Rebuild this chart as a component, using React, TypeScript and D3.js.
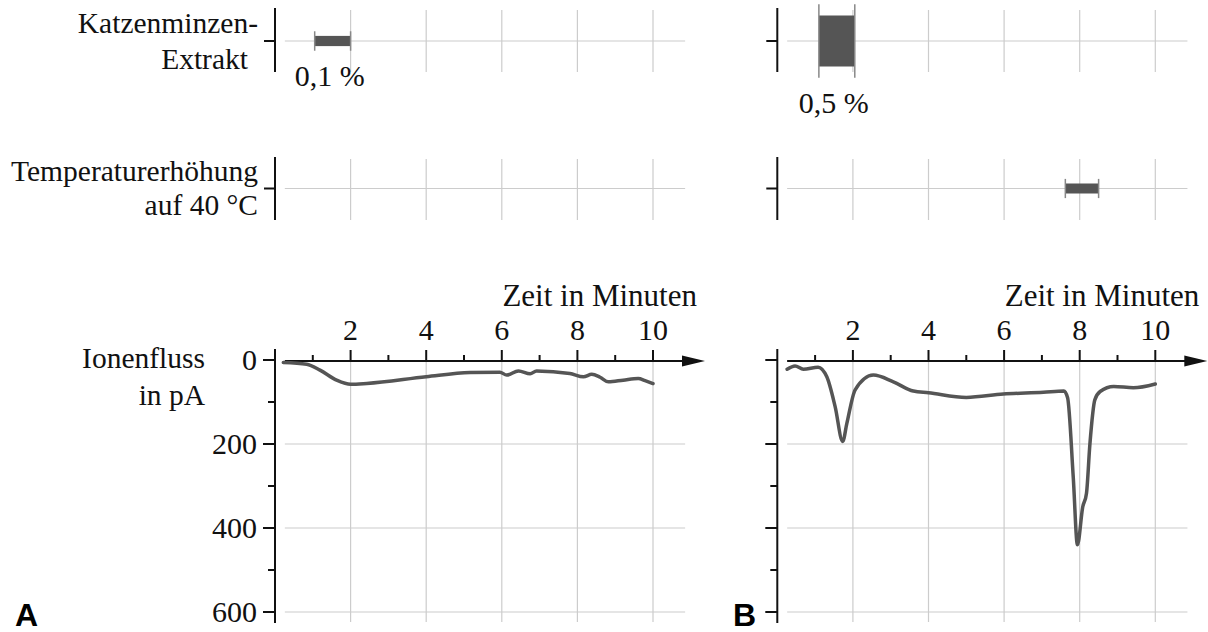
import React, { useRef, useEffect } from 'react';
import * as d3 from 'd3';

// time axis ticks (minutes) and flux axis ticks (pA)
const timeTicks = [2, 4, 6, 8, 10];
const timeMinor = [1, 3, 5, 7, 9];
const fluxTicks = [0, 200, 400, 600];
const fluxMinor = [100, 300, 500];

const panels = ['A', 'B'];

// stimulus bars: [start, end] in minutes
const extractSpan = [[1.05, 2.0], [1.1, 2.05]];
const extractConc = [0.1, 0.5];
const extractLabel = ['0,1 %', '0,5 %'];
const heatSpan = [null, [7.62, 8.5]];

// ion flux, panel A
const timeA = [0.22, 0.84, 1.19, 1.63, 2.0, 2.43, 4.0, 5.16, 5.95, 6.13, 6.44, 6.75, 6.92, 7.8, 8.16, 8.38, 8.6, 8.82, 9.21, 9.61, 9.79, 10.0];
const fluxA = [6, 10, 24, 48, 58, 56, 40, 30, 29, 36, 26, 33, 26, 32, 40, 34, 41, 52, 48, 44, 49, 56];

// ion flux, panel B
const timeB = [0.26, 0.47, 0.69, 1.08, 1.31, 1.53, 1.73, 1.84, 2.06, 2.54, 3.07, 3.6, 4.0, 5.0, 5.98, 7.04, 7.58, 7.68, 7.83, 7.94, 8.08, 8.18, 8.27, 8.4, 8.54, 8.9, 9.42, 10.0];
const fluxB = [22, 14, 22, 17, 40, 111, 194, 151, 71, 36, 52, 74, 78, 89, 81, 77, 74, 90, 280, 440, 350, 317, 200, 95, 75, 63, 66, 57];

const serif = '"Liberation Serif", "Times New Roman", serif';
const GRID = '#cccccc';
const INK = '#111';
const LINE = '#555555';

const App = () => {
    const svgRef = useRef(null);

    useEffect(() => {
        const svg = d3.select(svgRef.current);
        svg.selectAll('*').remove();

        const yScale = d3.scaleLinear().domain([0, 600]).range([360, 612]);
        const thick = d3.scaleLinear().domain([0, 0.5]).range([0, 51]);
        const series = [timeA.map((t, i) => ({ t, v: fluxA[i] })), timeB.map((t, i) => ({ t, v: fluxB[i] }))];

        const rows = [{ cy: 41, top: 8, bottom: 72 }, { cy: 188.5, top: 157, bottom: 220 }];

        panels.forEach((p, pi) => {
            const x0 = pi === 0 ? 275 : 777.3;
            const xScale = d3.scaleLinear().domain([0, 10]).range([x0, x0 + 378]);
            const g = svg.append('g');

            // ---- stimulus rows
            rows.forEach((r, ri) => {
                g.selectAll(null).data(timeTicks).enter().append('line')
                    .attr('x1', d => xScale(d)).attr('x2', d => xScale(d))
                    .attr('y1', r.top + 2).attr('y2', r.bottom)
                    .attr('stroke', GRID).attr('stroke-width', 1.2);
                g.append('line')
                    .attr('x1', xScale(0.26)).attr('x2', xScale(10.85))
                    .attr('y1', r.cy).attr('y2', r.cy)
                    .attr('stroke', GRID).attr('stroke-width', 1.2);
                g.append('line')
                    .attr('x1', x0).attr('x2', x0).attr('y1', r.top).attr('y2', r.bottom)
                    .attr('stroke', INK).attr('stroke-width', 2);
                g.append('line')
                    .attr('x1', x0 - 11).attr('x2', x0).attr('y1', r.cy).attr('y2', r.cy)
                    .attr('stroke', INK).attr('stroke-width', 2);

                const span = ri === 0 ? extractSpan[pi] : heatSpan[pi];
                if (!span) return;
                const h = ri === 0 ? thick(extractConc[pi]) : 10;
                const capHalf = h / 2 + 3 + h * 0.16;
                g.append('rect')
                    .attr('x', xScale(span[0])).attr('width', xScale(span[1]) - xScale(span[0]))
                    .attr('y', r.cy - h / 2).attr('height', h)
                    .attr('fill', LINE);
                g.selectAll(null).data(span).enter().append('line')
                    .attr('x1', d => xScale(d)).attr('x2', d => xScale(d))
                    .attr('y1', r.cy - capHalf).attr('y2', r.cy + capHalf)
                    .attr('stroke', '#888').attr('stroke-width', 1.5);
                if (ri === 0) {
                    g.append('text')
                        .attr('x', (xScale(span[0]) + xScale(span[1])) / 2 - 3)
                        .attr('y', r.cy + capHalf + 35)
                        .attr('text-anchor', 'middle')
                        .style('font-family', serif).style('font-size', '30px').attr('fill', INK)
                        .text(extractLabel[pi]);
                }
            });

            // ---- flux chart grid
            g.selectAll(null).data(timeTicks).enter().append('line')
                .attr('x1', d => xScale(d)).attr('x2', d => xScale(d))
                .attr('y1', 361).attr('y2', 622)
                .attr('stroke', GRID).attr('stroke-width', 1.2);
            g.selectAll(null).data(fluxTicks.slice(1)).enter().append('line')
                .attr('x1', xScale(0.26)).attr('x2', xScale(10.85))
                .attr('y1', d => yScale(d)).attr('y2', d => yScale(d))
                .attr('stroke', GRID).attr('stroke-width', 1.2);

            // y axis
            g.append('line')
                .attr('x1', x0).attr('x2', x0).attr('y1', 349).attr('y2', 623)
                .attr('stroke', INK).attr('stroke-width', 2);
            g.selectAll(null).data(fluxTicks).enter().append('line')
                .attr('x1', x0 - 12).attr('x2', x0)
                .attr('y1', d => yScale(d)).attr('y2', d => yScale(d))
                .attr('stroke', INK).attr('stroke-width', 2);
            g.selectAll(null).data(fluxMinor).enter().append('line')
                .attr('x1', x0 - 7).attr('x2', x0)
                .attr('y1', d => yScale(d)).attr('y2', d => yScale(d))
                .attr('stroke', INK).attr('stroke-width', 2);
            if (pi === 0) {
                g.selectAll(null).data(fluxTicks).enter().append('text')
                    .attr('x', x0 - 18).attr('y', d => yScale(d) + 10)
                    .attr('text-anchor', 'end')
                    .style('font-family', serif).style('font-size', '30px').attr('fill', INK)
                    .text(d => d);
            }

            // x axis with arrow
            const tip = xScale(10) + 52;
            g.append('line')
                .attr('x1', xScale(0.26)).attr('x2', tip - 10).attr('y1', 361).attr('y2', 361)
                .attr('stroke', INK).attr('stroke-width', 2);
            g.append('path')
                .attr('d', `M${tip},361 L${tip - 23},355.5 L${tip - 23},366.5 Z`)
                .attr('fill', INK);
            g.selectAll(null).data(timeTicks).enter().append('line')
                .attr('x1', d => xScale(d)).attr('x2', d => xScale(d))
                .attr('y1', 350).attr('y2', 361)
                .attr('stroke', INK).attr('stroke-width', 2);
            g.selectAll(null).data(timeMinor).enter().append('line')
                .attr('x1', d => xScale(d)).attr('x2', d => xScale(d))
                .attr('y1', 355).attr('y2', 361)
                .attr('stroke', INK).attr('stroke-width', 2);
            g.selectAll(null).data(timeTicks).enter().append('text')
                .attr('x', d => xScale(d)).attr('y', 340)
                .attr('text-anchor', 'middle')
                .style('font-family', serif).style('font-size', '30px').attr('fill', INK)
                .text(d => d);
            g.append('text')
                .attr('x', x0 + 422).attr('y', 306)
                .attr('text-anchor', 'end')
                .style('font-family', serif).style('font-size', '31px').attr('fill', INK)
                .text('Zeit in Minuten');

            // flux curve
            const line = d3.line()
                .x(d => xScale(d.t))
                .y(d => yScale(d.v))
                .curve(d3.curveMonotoneX);
            g.append('path')
                .datum(series[pi])
                .attr('d', line)
                .attr('fill', 'none')
                .attr('stroke', LINE)
                .attr('stroke-width', 3.5)
                .attr('stroke-linejoin', 'round')
                .attr('stroke-linecap', 'round');

            // panel letter
            g.append('text')
                .attr('x', pi === 0 ? 15 : 733).attr('y', 626)
                .style('font-family', '"Liberation Sans", Arial, sans-serif')
                .style('font-size', '32px').style('font-weight', 'bold').attr('fill', '#000')
                .text(p);
        });

        // row and axis titles
        const labels = [
            ['Katzenminzen-', 258, 33],
            ['Extrakt', 248, 68.5],
            ['Temperaturerhöhung', 258, 181],
            ['auf 40 °C', 258, 215],
            ['Ionenfluss', 205, 367.5],
            ['in pA', 205, 405],
        ];
        svg.selectAll(null).data(labels).enter().append('text')
            .attr('x', d => d[1]).attr('y', d => d[2])
            .attr('text-anchor', 'end')
            .style('font-family', serif).style('font-size', '29.5px').attr('fill', INK)
            .text(d => d[0]);
    }, []);

    return (
        <svg ref={svgRef} width={1208} height={632}
            style={{ position: 'absolute', left: 0, top: 0, background: '#fff' }} />
    );
};

export default App;
